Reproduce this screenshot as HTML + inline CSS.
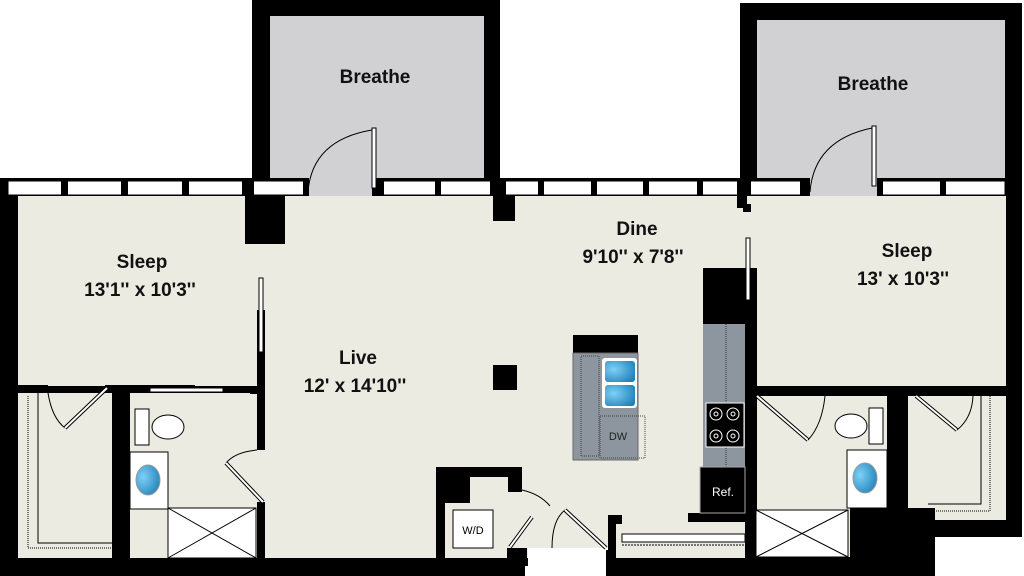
<!DOCTYPE html>
<html><head><style>body{margin:0;background:#fff}svg{display:block}</style></head><body>
<svg width="1024" height="576" viewBox="0 0 1024 576" xmlns="http://www.w3.org/2000/svg" font-family="Liberation Sans, Arial, sans-serif">
<defs>
<radialGradient id="bl" cx="0.3" cy="0.4" r="0.8"><stop offset="0" stop-color="#7fd0f5"/><stop offset="1" stop-color="#1c7fb8"/></radialGradient>
</defs>
<!-- breathe rooms -->
<rect x="252" y="0" width="248" height="192" fill="#000"/>
<rect x="270" y="16" width="214" height="180" fill="#d1d1d3"/>
<rect x="740" y="3" width="282" height="189" fill="#000"/>
<rect x="757" y="20" width="248" height="176" fill="#d1d1d3"/>
<!-- main outline -->
<rect x="0" y="178" width="1022" height="398" fill="#000"/>
<rect x="935" y="537" width="89" height="39" fill="#fff"/>
<rect x="1022" y="178" width="2" height="360" fill="#fff"/>
<!-- floor -->
<rect x="18" y="196" width="988" height="190" fill="#ecebe1"/>
<rect x="265" y="386" width="480" height="172" fill="#ecebe1"/>
<rect x="130" y="393" width="135" height="165" fill="#ecebe1"/>
<rect x="18" y="393" width="94" height="165" fill="#ecebe1"/>
<rect x="757" y="396" width="130" height="161" fill="#ecebe1"/>
<rect x="908" y="396" width="98" height="124" fill="#ecebe1"/>
<rect x="745" y="386" width="12" height="0" fill="#ecebe1"/>
<!-- window strip -->
<rect x="8" y="181" width="238" height="14" fill="#fff" stroke="#000" stroke-width="1"/>
<rect x="252" y="181" width="54" height="14" fill="#fff" stroke="#000"/>
<rect x="308" y="178" width="65" height="18" fill="#d1d1d3"/>
<rect x="383" y="181" width="358" height="14" fill="#fff" stroke="#000"/>
<rect x="750" y="181" width="52" height="14" fill="#fff" stroke="#000"/>
<rect x="810" y="178" width="68" height="18" fill="#d1d1d3"/>
<rect x="880" y="181" width="125" height="14" fill="#fff" stroke="#000"/>
<g fill="#000">
<rect x="61" y="178" width="7" height="18"/><rect x="121" y="178" width="7" height="18"/><rect x="182" y="178" width="7" height="18"/><rect x="242" y="178" width="12" height="18"/>
<rect x="303" y="178" width="6" height="18"/><rect x="372" y="178" width="12" height="18"/>
<rect x="435" y="178" width="6" height="18"/><rect x="490" y="178" width="16" height="18"/><rect x="538" y="178" width="6" height="18"/><rect x="591" y="178" width="6" height="18"/><rect x="643" y="178" width="6" height="18"/><rect x="697" y="178" width="6" height="18"/><rect x="737" y="178" width="14" height="18"/>
<rect x="800" y="178" width="8" height="18"/><rect x="877" y="178" width="6" height="18"/><rect x="940" y="178" width="6" height="18"/>
<!-- columns -->
<rect x="245" y="196" width="40" height="48"/>
<rect x="493" y="196" width="22" height="25"/>
<rect x="493" y="365" width="24" height="25"/>
<rect x="737" y="196" width="10" height="12"/><rect x="743" y="204" width="8" height="8"/>
<!-- left sleep bottom walls -->
<rect x="18" y="385" width="30" height="8"/><rect x="105" y="385" width="90" height="8"/>
<rect x="112" y="385" width="18" height="173"/>
<!-- wall sleep/live -->
<rect x="257" y="310" width="8" height="140"/>
<rect x="250" y="386" width="10" height="8"/>
<rect x="257" y="502" width="8" height="56"/>
<!-- W/D closet -->
<rect x="436" y="467" width="86" height="91"/>
<!-- kitchen right column -->
<rect x="703" y="268" width="42" height="56"/>
<rect x="745" y="268" width="12" height="290"/>
<rect x="688" y="513" width="57" height="9"/>
<!-- right sleep bottom walls -->
<rect x="745" y="386" width="35" height="10"/><rect x="838" y="386" width="140" height="10"/><rect x="1000" y="386" width="6" height="10"/>
<rect x="887" y="396" width="21" height="161"/>
<rect x="850" y="508" width="85" height="68"/>
<rect x="908" y="520" width="114" height="17"/>
<!-- entry posts -->
<rect x="608" y="515" width="8" height="45"/><rect x="608" y="515" width="14" height="9"/>
</g>
<!-- W/D interior -->
<path d="M445 477 H470 V500 H448 Z" fill="none"/>
<path d="M470 477 H513 V490 H522 V558 H445 V503 H470 Z" fill="#ecebe1"/>
<rect x="508" y="467" width="14" height="25" fill="#000"/>
<rect x="453" y="510" width="40" height="38" fill="#fff" stroke="#000"/>
<text x="473" y="534" font-size="11" text-anchor="middle">W/D</text>
<rect x="507" y="548" width="20" height="10" fill="#000"/>
<!-- entry -->
<rect x="528" y="548" width="80" height="28" fill="#fff"/>
<rect x="525" y="566" width="10" height="10" fill="#fff"/>
<rect x="606" y="550" width="4" height="26" fill="#000"/>
<path d="M510 547 L532 517" stroke="#000" stroke-width="4"/><path d="M510 547 L532 517" stroke="#fff" stroke-width="2"/>
<path d="M552 548 Q552 520 565 510" fill="none" stroke="#000"/>
<path d="M565 510 L606 548" stroke="#000" stroke-width="4"/><path d="M565 510 L606 548" stroke="#fff" stroke-width="2"/>
<path d="M522 490 Q540 494 550 506" fill="none" stroke="#000"/>
<rect x="622" y="534" width="123" height="8" fill="#fff" stroke="#000"/>
<line x1="622" y1="545" x2="745" y2="545" stroke="#000" stroke-dasharray="2,1"/>
<!-- island -->
<rect x="573" y="335" width="65" height="18" fill="#000"/>
<rect x="573" y="353" width="65" height="107" fill="#8d959e" stroke="#666"/>
<rect x="581" y="356" width="18" height="100" fill="none" stroke="#444" stroke-dasharray="1,1"/>
<rect x="602" y="358" width="35" height="50" rx="3" fill="#fff"/>
<rect x="605" y="361" width="30" height="21" rx="3" fill="url(#bl)"/>
<rect x="605" y="385" width="30" height="21" rx="3" fill="url(#bl)"/>
<rect x="600" y="416" width="45" height="42" fill="none" stroke="#444" stroke-dasharray="1,1"/>
<text x="618" y="440" font-size="11" text-anchor="middle" fill="#222">DW</text>
<!-- kitchen counter -->
<rect x="703" y="324" width="42" height="145" fill="#8d959e"/>
<line x1="726" y1="324" x2="726" y2="467" stroke="#333" stroke-dasharray="1,1"/>
<rect x="706" y="403" width="38" height="44" fill="#000" stroke="#fff"/>
<g fill="none" stroke="#fff"><circle cx="716" cy="414" r="6"/><circle cx="733" cy="414" r="6"/><circle cx="716" cy="436" r="6"/><circle cx="733" cy="436" r="6"/><circle cx="716" cy="414" r="2"/><circle cx="733" cy="414" r="2"/><circle cx="716" cy="436" r="2"/><circle cx="733" cy="436" r="2"/></g>
<rect x="700" y="467" width="45" height="46" fill="#000" stroke="#aaa"/>
<text x="723" y="496" font-size="12" text-anchor="middle" fill="#fff">Ref.</text>
<!-- sliding doors -->
<rect x="259" y="278" width="4" height="74" fill="#fff" stroke="#000"/>
<rect x="746" y="238" width="4" height="62" fill="#fff" stroke="#000"/>
<rect x="150" y="388" width="73" height="4" fill="#fff" stroke="#000"/>
<!-- breathe doors -->
<path d="M308 192 Q312 140 372 130" fill="none" stroke="#000"/>
<rect x="372" y="128" width="4" height="60" fill="#fff" stroke="#000"/>
<path d="M810 192 Q814 140 872 128" fill="none" stroke="#000"/>
<rect x="872" y="126" width="4" height="60" fill="#fff" stroke="#000"/>
<!-- left closet -->
<path d="M38 393 V543 H112" fill="none" stroke="#000"/>
<path d="M28 396 V548 H112" fill="none" stroke="#000" stroke-dasharray="1,1"/>
<path d="M48 393 Q52 418 65 428" fill="none" stroke="#000"/>
<path d="M65 428 L107 388" stroke="#000" stroke-width="4"/><path d="M65 428 L107 388" stroke="#fff" stroke-width="2"/>
<!-- left bath -->
<rect x="135" y="409" width="14" height="36" fill="#fff" stroke="#000"/>
<ellipse cx="168" cy="427" rx="16" ry="12" fill="#fff" stroke="#000"/>
<rect x="130" y="452" width="38" height="57" fill="#fff" stroke="#000"/>
<ellipse cx="148" cy="480" rx="12" ry="15" fill="url(#bl)" stroke="#999"/>
<rect x="168" y="508" width="88" height="50" fill="#fff" stroke="#000"/>
<path d="M168 508 L256 558 M256 508 L168 558" stroke="#000"/>
<path d="M257 450 Q235 452 226 463" fill="none" stroke="#000"/>
<path d="M226 463 L263 502" stroke="#000" stroke-width="4"/><path d="M226 463 L263 502" stroke="#fff" stroke-width="2"/>
<!-- right bath -->
<path d="M757 396 L808 440" stroke="#000" stroke-width="4"/><path d="M757 396 L808 440" stroke="#fff" stroke-width="2"/>
<path d="M808 440 Q822 425 825 396" fill="none" stroke="#000"/>
<rect x="869" y="408" width="14" height="36" fill="#fff" stroke="#000"/>
<ellipse cx="851" cy="426" rx="16" ry="12" fill="#fff" stroke="#000"/>
<rect x="847" y="450" width="40" height="58" fill="#fff" stroke="#000"/>
<ellipse cx="865" cy="478" rx="12" ry="15" fill="url(#bl)" stroke="#999"/>
<rect x="756" y="510" width="92" height="47" fill="#fff" stroke="#000"/>
<path d="M756 510 L848 557 M848 510 L756 557" stroke="#000"/>
<!-- right closet -->
<path d="M916 396 L957 430" stroke="#000" stroke-width="4"/><path d="M916 396 L957 430" stroke="#fff" stroke-width="2"/>
<path d="M957 430 Q972 418 973 396" fill="none" stroke="#000"/>
<path d="M981 396 V504 H928" fill="none" stroke="#000"/>
<path d="M990 396 V511 H928" fill="none" stroke="#000" stroke-dasharray="1,1"/>
<!-- labels -->
<g font-weight="bold" font-size="19" text-anchor="middle" fill="#111">
<text x="375" y="83">Breathe</text>
<text x="873" y="90">Breathe</text>
<text x="142" y="268">Sleep</text>
<text x="140" y="296">13'1'' x 10'3''</text>
<text x="358" y="364">Live</text>
<text x="355" y="392">12' x 14'10''</text>
<text x="637" y="235">Dine</text>
<text x="633" y="263">9'10'' x 7'8''</text>
<text x="907" y="257">Sleep</text>
<text x="903" y="285">13' x 10'3''</text>
</g>
</svg>
</body></html>
